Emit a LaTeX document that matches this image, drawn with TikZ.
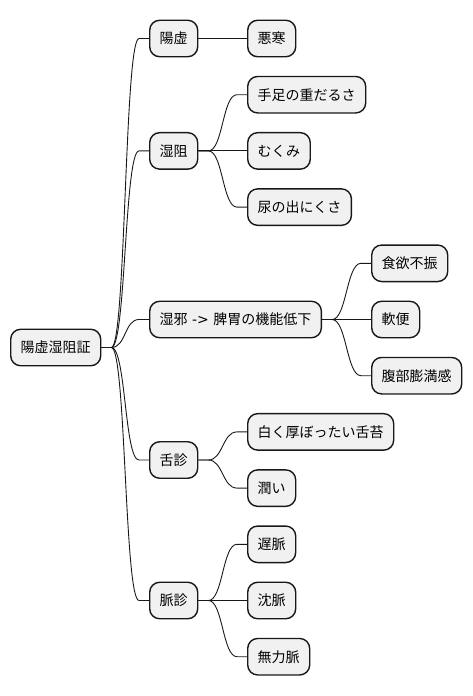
\documentclass[tikz,border=0pt]{standalone}
\usepackage{fontspec}
\setmainfont{Noto Sans CJK JP}
\newfontfamily\dvs{DejaVu Sans}
\usetikzlibrary{calc}
\definecolor{nodefill}{HTML}{F1F1F1}
\definecolor{nodeline}{HTML}{181818}
\tikzset{
  mm/.style={draw=nodeline, line width=1.4pt, fill=nodefill, rounded corners=10pt,
    inner xsep=10pt, inner ysep=0pt, minimum height=36.5pt, anchor=west,
    text height=11.6pt, text depth=1pt, font=\fontsize{14pt}{16pt}\selectfont},
  link/.style={draw=nodeline, line width=0.9pt}
}
\newcommand{\mmlink}[2]{\draw[link] (#1.east) -- ++(10,0) .. controls +(14.5,0) and +(-14.5,0) .. ($(#2.west)+(-10,0)$) -- (#2.west);}
\begin{document}
\begin{tikzpicture}[x=1pt,y=-1pt]
\useasboundingbox (0,0) rectangle (472,696);
% root
\node[mm] (root) at (10,347.5) {陽虚湿阻証};
% level 1
\node[mm] (a) at (149,38.5) {陽虚};
\node[mm] (b) at (149,150.9) {湿阻};
\node[mm] (c) at (149,319.5) {湿邪{\dvs\ -> }脾胃の機能低下};
\node[mm] (d) at (149,460) {舌診};
\node[mm] (e) at (149,600.5) {脈診};
% level 2
\node[mm] (a1) at (247,38.5) {悪寒};
\node[mm] (b1) at (247,94.7) {手足の重だるさ};
\node[mm] (b2) at (247,150.9) {むくみ};
\node[mm] (b3) at (247,207.1) {尿の出にくさ};
\node[mm] (c1) at (371,263.3) {食欲不振};
\node[mm] (c2) at (371,319.5) {軟便};
\node[mm] (c3) at (371,375.7) {腹部膨満感};
\node[mm] (d1) at (247,431.9) {白く厚ぼったい舌苔};
\node[mm] (d2) at (247,488.1) {潤い};
\node[mm] (e1) at (247,544.3) {遅脈};
\node[mm] (e2) at (247,600.5) {沈脈};
\node[mm] (e3) at (247,656.7) {無力脈};
% links
\mmlink{root}{a}
\mmlink{root}{b}
\mmlink{root}{c}
\mmlink{root}{d}
\mmlink{root}{e}
\mmlink{a}{a1}
\mmlink{b}{b1}
\mmlink{b}{b2}
\mmlink{b}{b3}
\mmlink{c}{c1}
\mmlink{c}{c2}
\mmlink{c}{c3}
\mmlink{d}{d1}
\mmlink{d}{d2}
\mmlink{e}{e1}
\mmlink{e}{e2}
\mmlink{e}{e3}
\end{tikzpicture}
\end{document}
